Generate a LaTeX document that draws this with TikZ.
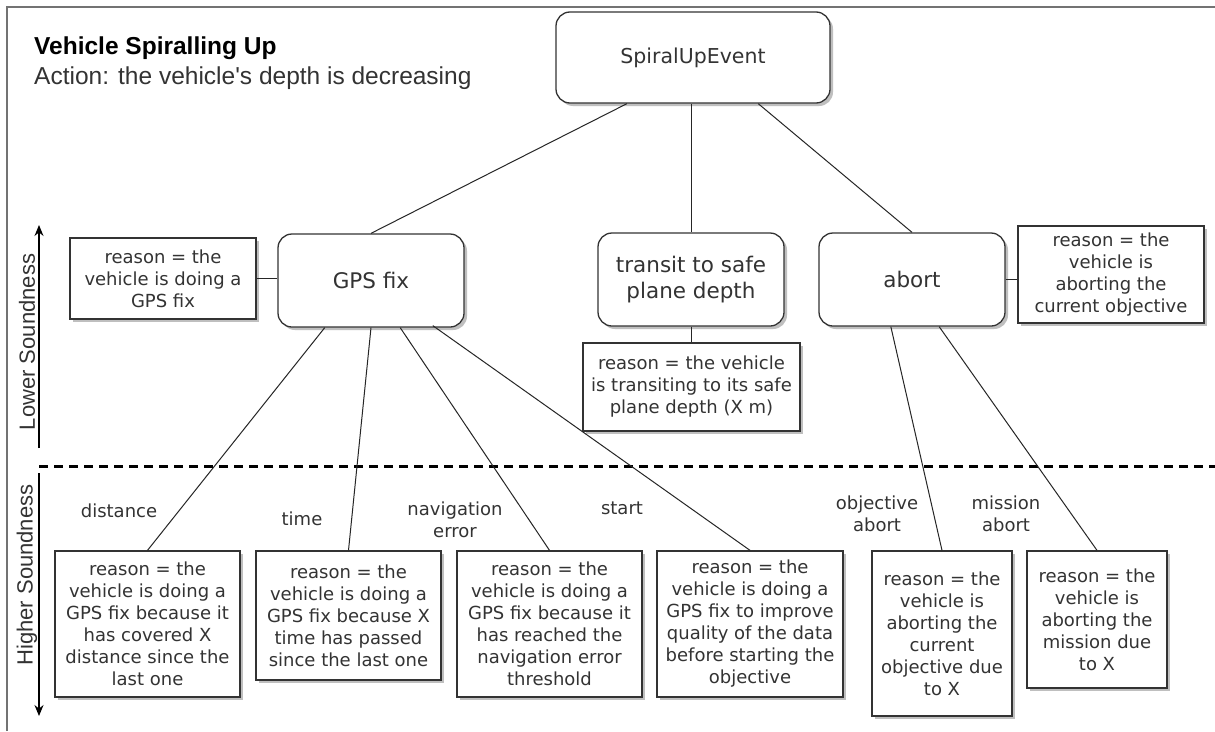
\documentclass[tikz,border=0pt]{standalone}
\usepackage{fontspec}
\setmainfont{Liberation Sans}
\newfontfamily\vd{DejaVu Sans}
\usetikzlibrary{shadows,arrows.meta,calc}
\definecolor{txt}{HTML}{333333}
\definecolor{bord}{HTML}{333333}
\begin{document}
\begin{tikzpicture}[x=1pt,y=-1pt,
  box/.style={draw=bord, line width=1.3pt, fill=white, text=txt,
    font=\vd\fontsize{18}{22}\selectfont, align=center, inner sep=0pt,
    drop shadow={shadow xshift=3pt, shadow yshift=-3pt, fill=black!25, opacity=1}},
  rbox/.style={box, rounded corners=14pt, minimum width=186pt, minimum height=93pt,
    font=\vd\fontsize{21.5}{26}\selectfont},
  lbl/.style={text=txt, font=\vd\fontsize{18}{22}\selectfont, align=center, inner sep=0pt},
  axislbl/.style={text=txt, font=\fontsize{22}{26}\selectfont, inner sep=0pt, rotate=90},
  conn/.style={line width=1pt, black!85},
  axis/.style={line width=1.3pt, black}]
\useasboundingbox (0,0) rectangle (1215,731);
\fill[white] (0,0) rectangle (1215,731);
\draw[black!55, line width=1.5pt] (7,731) -- (7,7) -- (1215,7);

% title
\node[anchor=base west, inner sep=0pt, font=\bfseries\fontsize{24.5}{29}\selectfont] (title) at (34,54) {Vehicle Spiralling Up};
\node[anchor=base west, inner sep=0pt, text=txt, font=\fontsize{24.5}{29}\selectfont] (action) at (34,84) {Action: the vehicle\textquotesingle s depth is decreasing};

% axis
\node[axislbl] (lower) at (27,342) {Lower Soundness};
\node[axislbl] (higher) at (27,575) {Higher Soundness};
\coordinate (l1a) at (39,448);
\coordinate (l1b) at (39,225);
\coordinate (l2a) at (39,473);
\coordinate (l2b) at (39,716);
\draw[axis, -{Stealth[length=11pt,width=9pt]}] (l1a) -- (l1b);
\draw[axis, -{Stealth[length=11pt,width=9pt]}] (l2a) -- (l2b);
\coordinate (d1) at (39,466);
\coordinate (d2) at (1215,466);
\draw[line width=3pt, dash pattern=on 9pt off 6pt] (d1) -- (d2);

% main nodes
\node[rbox, minimum width=274pt, minimum height=91pt, font=\vd\fontsize{20.5}{25}\selectfont] (top) at (693,57.5) {SpiralUpEvent};
\node[rbox] (gps) at (371,280.5) {GPS fix};
\node[rbox] (transit) at (691,279.5) {transit to safe\\plane depth};
\node[rbox] (abort) at (912,279.5) {abort};

\node[box, minimum width=186pt, minimum height=81pt] (rgps) at (163,278.5) {reason = the\\vehicle is doing a\\GPS fix};
\node[box, minimum width=217pt, minimum height=88pt] (rtransit) at (691.5,387) {reason = the vehicle\\is transiting to its safe\\plane depth (X m)};
\node[box, minimum width=186pt, minimum height=97pt] (rabort) at (1111,274.5) {reason = the\\vehicle is\\aborting the\\current objective};

% bottom nodes
\node[box, minimum width=185pt, minimum height=146pt] (b1) at (147.5,624) {reason = the\\vehicle is doing a\\GPS fix because it\\has covered X\\distance since the\\last one};
\node[box, minimum width=185pt, minimum height=129pt] (b2) at (348.5,615.5) {reason = the\\vehicle is doing a\\GPS fix because X\\time has passed\\since the last one};
\node[box, minimum width=185pt, minimum height=146pt] (b3) at (549.5,624) {reason = the\\vehicle is doing a\\GPS fix because it\\has reached the\\navigation error\\threshold};
\node[box, minimum width=186pt, minimum height=146pt] (b4) at (750,624) {reason = the\\vehicle is doing a\\GPS fix to improve\\quality of the data\\before starting the\\objective};
\node[box, minimum width=140pt, minimum height=165pt] (b5) at (942,633.5) {reason = the\\vehicle is\\aborting the\\current\\objective due\\to X};
\node[box, minimum width=140pt, minimum height=137pt] (b6) at (1097,619.5) {reason = the\\vehicle is\\aborting the\\mission due\\to X};

% labels
\node[lbl] (ldist) at (119,511) {distance};
\node[lbl] (ltime) at (302,519) {time};
\node[lbl] (lnav) at (455,519.5) {navigation\\error};
\node[lbl] (lstart) at (622,508) {start};
\node[lbl] (lobj) at (877,514) {objective\\abort};
\node[lbl] (lmis) at (1006,514) {mission\\abort};

% connectors
\draw[conn] ($(top.south west)!0.26!(top.south east)$) -- (gps.north);
\draw[conn] (transit.north |- top.south) -- (transit.north);
\draw[conn] ($(top.south west)!0.737!(top.south east)$) -- (abort.north);
\draw[conn] (rgps.east) -- (rgps.east -| gps.west);
\draw[conn] (abort.east) -- (abort.east -| rabort.west);
\draw[conn] (transit.south) -- (transit.south |- rtransit.north);
\draw[conn] ($(gps.south west)!0.253!(gps.south east)$) -- (b1.north);
\draw[conn] ($(gps.south west)!0.5!(gps.south east)$) -- (b2.north);
\draw[conn] ($(gps.south west)!0.656!(gps.south east)$) -- (b3.north);
\draw[conn] ($(gps.south west)!0.83!(gps.south east)+(0,-2)$) -- (b4.north);
\draw[conn] ($(abort.south west)!0.387!(abort.south east)$) -- (b5.north);
\draw[conn] ($(abort.south west)!0.645!(abort.south east)$) -- (b6.north);
\end{tikzpicture}
\end{document}
